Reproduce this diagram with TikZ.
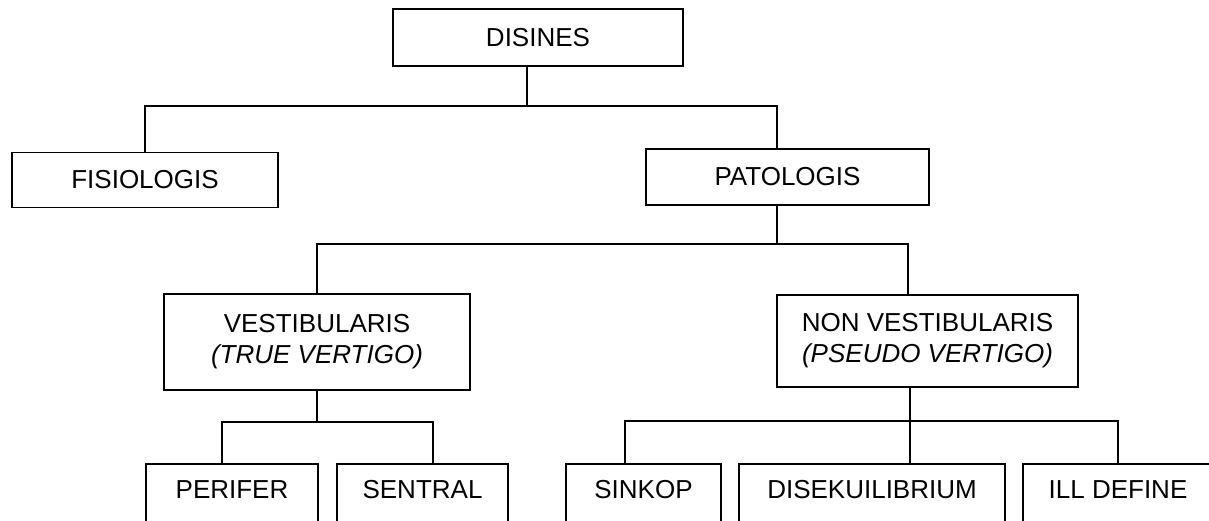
\documentclass[tikz,border=0pt]{standalone}
\usepackage{fontspec}
\setmainfont{Liberation Sans}
\begin{document}
\begin{tikzpicture}[x=1pt,y=-1pt,
  box/.style={draw,line width=1.6pt,inner sep=0pt,align=center,
    font=\fontsize{26}{31}\selectfont},
  bottombox/.style={draw,line width=1.6pt,anchor=north,inner xsep=0pt,
    inner ysep=16pt,text height=19pt,text depth=80pt,
    font=\fontsize{26}{31}\selectfont},
  conn/.style={line width=1.6pt}]
\useasboundingbox (0,0) rectangle (1209,520);
\clip (0,0) rectangle (1209,520);
\node[box,minimum width=290pt,minimum height=57pt] (disines) at (538,37.5) {DISINES};
\node[box,minimum width=266pt,minimum height=55pt] (fisio) at (145,180) {FISIOLOGIS};
\node[box,minimum width=283pt,minimum height=56pt] (pato) at (787.5,177) {PATOLOGIS};
\node[box,minimum width=306pt,minimum height=96pt] (vest) at (317,342) {VESTIBULARIS\\\itshape (TRUE VERTIGO)};
\node[box,minimum width=301pt,minimum height=92pt] (nonvest) at (927.5,341) {NON VESTIBULARIS\\\itshape (PSEUDO VERTIGO)};
\node[bottombox,minimum width=172pt] (perifer) at (232,463) {PERIFER};
\node[bottombox,minimum width=171pt] (sentral) at (422.5,463) {SENTRAL};
\node[bottombox,minimum width=155pt] (sinkop) at (643.5,463) {SINKOP};
\node[bottombox,minimum width=266pt] (dise) at (872,463) {DISEKUILIBRIUM};
\node[bottombox,minimum width=190pt] (ill) at (1118,463) {ILL DEFINE};
\draw[conn] ([xshift=-11pt]disines.south) -- ++(0,39) coordinate (j1);
\draw[conn] (fisio.north) |- (j1) -| ([xshift=-10.5pt]pato.north);
\draw[conn] ([xshift=-10.5pt]pato.south) -- ++(0,38) coordinate (j2);
\draw[conn] (vest.north) |- (j2) -| ([xshift=-19.5pt]nonvest.north);
\draw[conn] (vest.south) -- ++(0,31) coordinate (j3);
\draw[conn] ([xshift=-10pt]perifer.north) |- (j3) -| ([xshift=10.5pt]sentral.north);
\draw[conn] ([xshift=-17.5pt]nonvest.south) -- ++(0,33) coordinate (j4);
\draw[conn] (j4) -- ([xshift=38pt]dise.north);
\draw[conn] ([xshift=-18.5pt]sinkop.north) |- (j4) -| (ill.north);
\end{tikzpicture}
\end{document}
